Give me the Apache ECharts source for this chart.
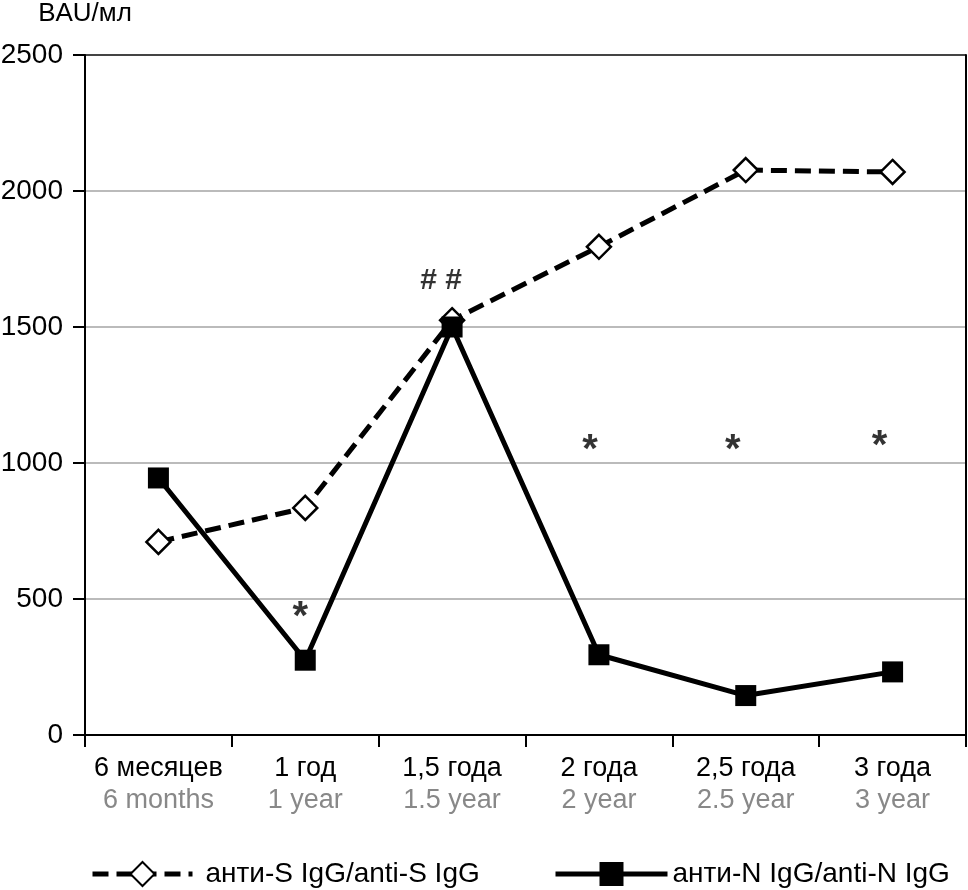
<!DOCTYPE html>
<html><head><meta charset="utf-8">
<script src="https://cdn.jsdelivr.net/npm/echarts@6/dist/echarts.min.js"></script>
<style>html,body{margin:0;padding:0;background:#fff}#c{width:968px;height:890px}</style>
</head><body><div id="c"></div>
<script>
const categoriesRu = ['6 месяцев', '1 год', '1,5 года', '2 года', '2,5 года', '3 года'];
const categoriesEn = ['6 months', '1 year', '1.5 year', '2 year', '2.5 year', '3 year'];
const antiS = [710, 835, 1525, 1795, 2077, 2070];
const antiN = [945, 275, 1500, 295, 145, 232];
const seriesNames = ['анти-S IgG/anti-S IgG', 'анти-N IgG/anti-N IgG'];
const yTicks = [0, 500, 1000, 1500, 2000, 2500];
// significance marks: [category index, value level, text]
const marks = [[1, 430, '*'], [2, 1670, '# #'], [3, 1045, '*'], [4, 1045, '*'], [5, 1060, '*']];
const markOffsets = [-5, -11, -9, -13, -13];

const FONT = '"Liberation Sans", Arial, sans-serif';
const chart = echarts.init(document.getElementById('c'));
chart.setOption({
  animation: false,
  textStyle: {fontFamily: FONT},
  grid: {left: 85, right: 2, top: 55, bottom: 155, containLabel: false, outerBoundsMode: 'none'},
  legend: [
    {data: [seriesNames[0]], left: 85, top: 855, itemWidth: 100, itemHeight: 30,
     lineStyle: {width: 5}, itemGap: 0,
     textStyle: {fontSize: 28, color: '#000', fontFamily: FONT, padding: [0, 0, 0, 8]}},
    {data: [seriesNames[1]], left: 548, top: 855, itemWidth: 112, itemHeight: 30,
     lineStyle: {width: 5}, itemGap: 0,
     textStyle: {fontSize: 28, color: '#000', fontFamily: FONT, padding: [0, 0, 0, 0]}}
  ],
  xAxis: {
    type: 'category', data: categoriesRu.map((r, i) => r + '\n' + categoriesEn[i]),
    boundaryGap: true,
    axisLine: {lineStyle: {color: '#000', width: 2}},
    axisTick: {show: true, length: 12, lineStyle: {color: '#000', width: 2}},
    axisLabel: {
      margin: 18,
      formatter: v => { const p = v.split('\n'); return '{a|' + p[0] + '}\n{b|' + p[1] + '}'; },
      rich: {
        a: {fontSize: 27, color: '#000', fontFamily: FONT, lineHeight: 32},
        b: {fontSize: 27, color: '#888', fontFamily: FONT, lineHeight: 32}
      }
    },
    splitLine: {show: false}
  },
  yAxis: [{
    type: 'value', min: 0, max: 2500, interval: 500,
    name: 'BAU/мл', nameLocation: 'end', nameGap: 28,
    nameTextStyle: {fontSize: 26, color: '#000', fontFamily: FONT, align: 'center'},
    axisLine: {show: true, lineStyle: {color: '#000', width: 2}},
    axisTick: {show: true, length: 12, lineStyle: {color: '#000', width: 2}},
    axisLabel: {fontSize: 28, color: '#000', margin: 22, fontFamily: FONT,
      formatter: v => yTicks.includes(v) ? String(v) : ''},
    splitLine: {show: true, lineStyle: {color: ['#bbb', '#bbb', '#bbb', '#bbb', '#bbb', '#444'], width: 2}}
  }, {
    type: 'value', min: 0, max: 2500, interval: 500, position: 'right',
    axisLine: {show: true, lineStyle: {color: '#000', width: 2}},
    axisTick: {show: false}, axisLabel: {show: false}, splitLine: {show: false}
  }],
  series: [
    {
      name: seriesNames[0], type: 'line', data: antiS,
      symbol: 'diamond', symbolSize: 24,
      lineStyle: {color: '#000', width: 5, type: [16, 8]},
      itemStyle: {color: '#fff', borderColor: '#000', borderWidth: 2.5},
      z: 2
    },
    {
      name: seriesNames[1], type: 'line', data: antiN,
      symbol: 'rect', symbolSize: 21,
      lineStyle: {color: '#000', width: 5, type: 'solid'},
      itemStyle: {color: '#000', borderColor: '#000', borderWidth: 0},
      z: 3
    },
    {
      type: 'scatter', symbolSize: 1, itemStyle: {color: 'transparent'},
      data: marks.map((m, i) => ({value: [m[0], m[1]], label: {
        offset: [markOffsets[i], 0],
        fontSize: marks[i][2] === '*' ? 40 : 30
      }})),
      label: {show: true, position: 'inside', color: '#000', fontWeight: 'bold', fontFamily: FONT,
        formatter: p => marks[p.dataIndex][2]},
      silent: true, z: 4
    }
  ]
});
</script></body></html>
